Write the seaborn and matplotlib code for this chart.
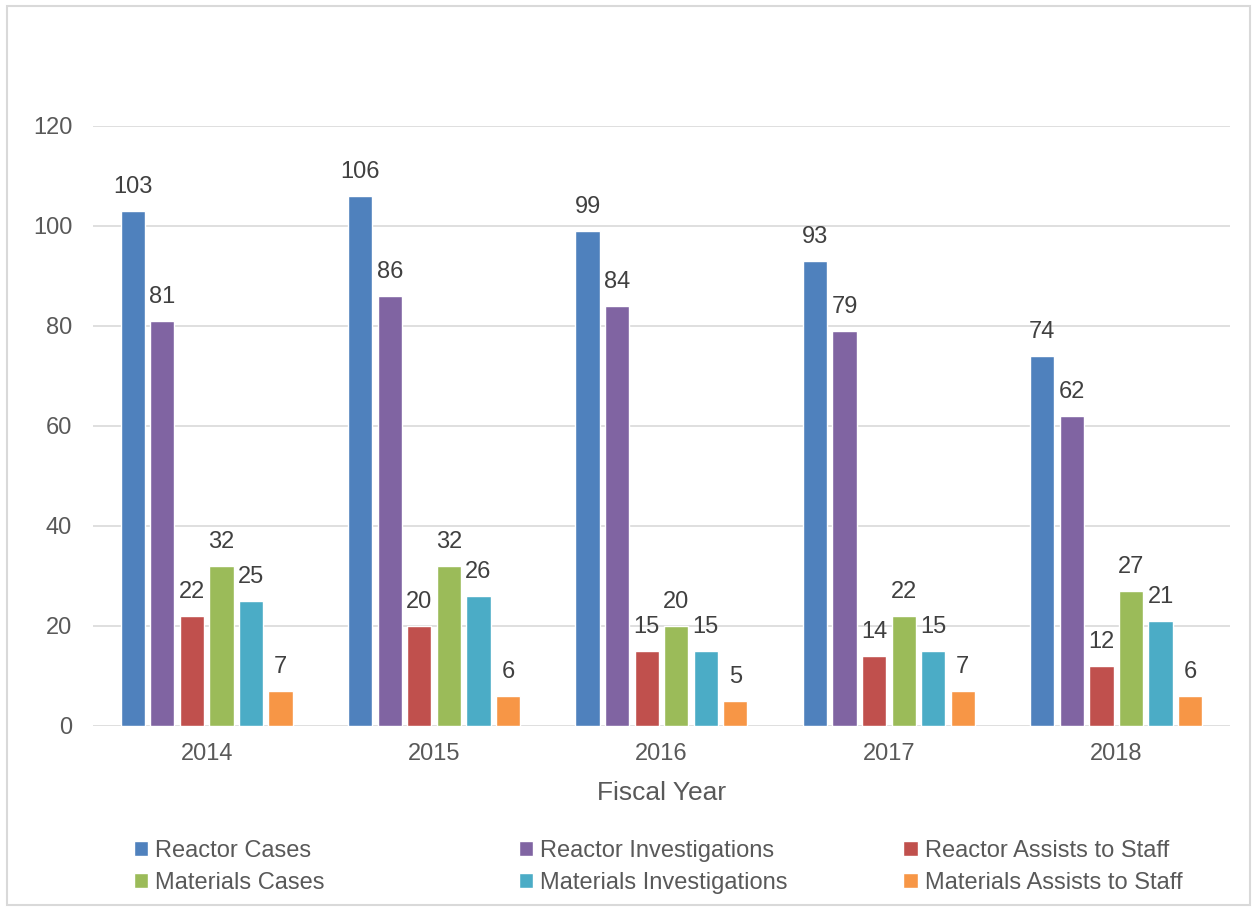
import numpy as np
import pandas as pd
import matplotlib
matplotlib.use('Agg')
import matplotlib.pyplot as plt
from matplotlib.patches import Patch, Rectangle
import seaborn as sns

# Data
years = ['2014', '2015', '2016', '2017', '2018']
series_names = ['Reactor Cases', 'Reactor Investigations', 'Reactor Assists to Staff',
                'Materials Cases', 'Materials Investigations', 'Materials Assists to Staff']
reactor_cases = [103, 106, 99, 93, 74]
reactor_investigations = [81, 86, 84, 79, 62]
reactor_assists = [22, 20, 15, 14, 12]
materials_cases = [32, 32, 20, 22, 27]
materials_investigations = [25, 26, 15, 15, 21]
materials_assists = [7, 6, 5, 7, 6]
colors = ['#4F81BD', '#8064A2', '#C0504D', '#9BBB59', '#4BACC6', '#F79646']

values = [reactor_cases, reactor_investigations, reactor_assists,
          materials_cases, materials_investigations, materials_assists]
rows = []
for name, vals in zip(series_names, values):
    for yr, v in zip(years, vals):
        rows.append({'Fiscal Year': yr, 'Count': v, 'Series': name})
df = pd.DataFrame(rows)

sns.set_style('white')
plt.rcParams['font.family'] = ['Liberation Sans', 'DejaVu Sans']
text_color = '#595959'
grid_color = '#D9D9D9'

fig = plt.figure(figsize=(12.53, 9.07), dpi=100)
ax = fig.add_axes([0.0742, 0.1996, 0.9074, 0.6615])

sns.barplot(data=df, x='Fiscal Year', y='Count', hue='Series', hue_order=series_names,
            palette=colors, width=0.78, gap=0.18, ax=ax, legend=False, saturation=1)

for cont in ax.containers:
    ax.bar_label(cont, padding=9, fontsize=17, color='#404040')

ax.set_ylim(0, 120)
ax.set_xlim(-0.5, 4.5)
ax.set_yticks(np.arange(0, 121, 20))
ax.yaxis.grid(True, color=grid_color, linewidth=1.2)
ax.set_axisbelow(True)
for s in ax.spines.values():
    s.set_visible(False)
ax.tick_params(axis='both', length=0, labelsize=17, labelcolor=text_color)
ax.tick_params(axis='y', pad=15)
ax.tick_params(axis='x', pad=12)
ax.set_xlabel('Fiscal Year', fontsize=19, color=text_color, labelpad=12)
ax.set_ylabel('')

# legend in three columns, filled row by row
col_x = [0.107, 0.414, 0.721]
for i, x in enumerate(col_x):
    handles = [Patch(facecolor=colors[i], label=series_names[i]),
               Patch(facecolor=colors[i + 3], label=series_names[i + 3])]
    fig.legend(handles=handles, loc='upper left', bbox_to_anchor=(x, 0.074),
               bbox_transform=fig.transFigure, frameon=False,
               fontsize=17, labelcolor=text_color, handlelength=0.6, handleheight=0.6,
               handletextpad=0.3, labelspacing=0.42, borderaxespad=0, borderpad=0)

fig.patches.append(Rectangle((7 / 1253, 1 - 905 / 907), 1243 / 1253, 899 / 907,
                             transform=fig.transFigure, fill=False, edgecolor=grid_color,
                             linewidth=1.5))

plt.savefig('out.png', dpi=100)
